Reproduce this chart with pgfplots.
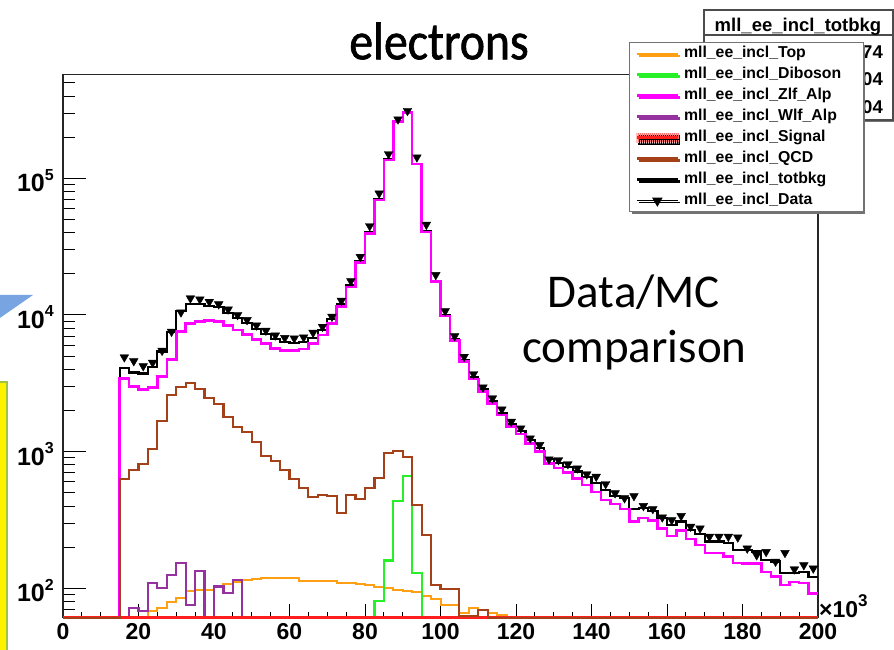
\documentclass[border=0pt]{standalone}
\usepackage{pgfplots}
\pgfplotsset{compat=1.18}
\usepackage{pgfplotstable}
\usepackage{fontspec}
\setmainfont{Liberation Sans}
\newfontfamily\calfont{Carlito}
\newfontfamily\titlefont[FakeStretch=0.9,FakeBold=1.2]{Carlito}
\usetikzlibrary{shadows}
\definecolor{cTop}{RGB}{255,160,20}
\definecolor{cDib}{RGB}{40,240,40}
\definecolor{cZlf}{RGB}{255,0,255}
\definecolor{cWlf}{RGB}{150,50,160}
\definecolor{cQCD}{RGB}{165,65,25}
\definecolor{cSig}{RGB}{255,30,30}
\definecolor{arrowblue}{RGB}{120,165,225}
\definecolor{boxolive}{RGB}{160,195,70}
\newcommand{\ylab}[1]{\fontsize{25}{25}\selectfont\bfseries 10\raisebox{11.5pt}{\fontsize{16}{16}\selectfont\bfseries #1}}

\pgfplotstableread{
x top dib zlf wlf qcd tot
0 61 61 61 61 61 61
15 61 61 3440 61 628 4068
17.5 61 61 2990 72 735 3797
20 61 61 2860 68 809 3737
22.5 68 61 2960 110 1042 4180
25 72 61 3540 101 1687 5400
27.5 79 61 4740 125 2600 7544
30 85 61 7550 154 2960 10749
32.5 95 61 8700 76 3160 12031
35 98 61 8940 134 2880 12052
37.5 98 61 9080 61 2460 11638
40 104 61 8940 103 2220 11367
42.5 108 61 8350 92 1805 10355
45 111 61 7760 115 1524 9510
47.5 115 61 7220 61 1387 8722
50 117 61 6640 61 1184 7941
52.5 119 61 6210 61 931 7260
55 120 61 5710 61 860 6690
57.5 120 61 5480 61 735 6335
60 120 61 5480 61 628 6228
62.5 114 61 5650 61 540 6304
65 113 61 6210 61 469 6792
67.5 114 61 7140 61 482 7736
70 114 61 8700 61 474 9288
72.5 110 61 11510 61 358 11978
75 109 61 15960 61 482 16551
77.5 107 61 24150 61 451 24708
80 105 61 39600 61 540 40245
82.5 103 81 69300 61 638 70122
85 100 160 136000 61 984 137244
87.5 98 436 259600 61 1017 261151
90 96 664 302000 61 910 303670
92.5 94 129 127200 61 407 127830
95 88 61 40620 61 246 40954
97.5 83 61 17550 61 106 17739
100 76 61 9800 61 99 9975
102.5 76 61 6490 61 99 6665
105 66 61 4550 61 63 4679
107.5 72 61 3400 61 63 3535
110 69 61 2750 61 69 2888
112.5 66 61 2260 61 61 2326
115 64 61 1850 61 61 1914
117.5 61 61 1524 61 61 1585
120 61 61 1349 61 61 1416
122.5 61 61 1151 61 61 1220
125 61 61 1000 61 61 1070
127.5 61 61 822 61 61 888
130 61 61 757 61 61 825
132.5 61 61 702 61 61 772
135 61 61 638 61 61 715
137.5 61 61 570 61 61 650
140 61 61 505 61 61 586
142.5 61 61 444 61 61 524
145 61 61 414 61 61 474
147.5 61 61 380 61 61 456
150 61 61 308 61 61 380
152.5 61 61 326 61 61 386
155 61 61 313 61 61 370
157.5 61 61 275 61 61 326
160 61 61 242 61 61 291
162.5 61 61 264 61 61 308
165 61 61 229 61 61 267
167.5 61 61 208 61 61 250
170 61 61 181 61 61 220
172.5 61 61 181 61 61 220
175 61 61 171 61 61 214
177.5 61 61 153 61 61 191
180 61 61 152 61 61 191
182.5 61 61 152 61 61 186
185 61 61 132 61 61 161
187.5 61 61 122 61 61 157
190 61 61 106 61 61 130
192.5 61 61 111 61 61 130
195 61 61 109 61 61 132
197.5 61 61 92 61 61 121
200 61 61 92 61 61 121
}\hist

\pgfplotstableread{
x d
16.25 4910
18.75 4600
21.25 4230
23.75 4480
26.25 5480
28.75 7550
31.25 10470
33.75 13260
36.25 13030
38.75 12500
41.25 12000
43.75 11000
46.25 10000
48.75 9200
51.25 8400
53.75 7700
56.25 7100
58.75 6800
61.25 6750
63.75 6870
66.25 7430
68.75 8210
71.25 9720
73.75 12730
76.25 17740
78.75 26700
81.25 44770
83.75 77600
86.25 150600
88.75 270400
91.25 312000
93.75 142600
96.25 45800
98.75 19640
101.25 10700
103.75 7010
106.25 4950
108.75 3700
111.25 2960
113.75 2460
116.25 2040
118.75 1659
121.25 1483
123.75 1253
126.25 1120
128.75 880
131.25 869
133.75 812
136.25 756
138.75 684
141.25 657
143.75 580
146.25 497
148.75 457
151.25 474
153.75 401
156.25 381
158.75 331
161.25 316
163.75 339
166.25 283
168.75 275
171.25 239
173.75 239
176.25 239
178.75 236
181.25 196
183.75 175
186.25 185
188.75 157
191.25 182
193.75 138
196.25 148
198.75 140
}\datatab

\pgfplotsset{
  legline/.style={legend image code/.code={\draw[##1] (0pt,0pt)--(41pt,0pt);}},
  legdata/.style={legend image code/.code={\draw[black,line width=1.5pt] (0pt,0pt)--(41pt,0pt); \path[##1] plot coordinates {(20.5pt,0pt)};}},
  legsig/.style={legend image code/.code={\fill[red!25] (0pt,-4.5pt) rectangle (41pt,4.5pt);
      \foreach \i in {1,3,...,41} {\draw[red!55,line width=0.6pt] (\i pt,-4.5pt)--(\i pt,4.5pt);}
      \draw[cSig,line width=2.5pt] (0pt,0pt)--(41pt,0pt);}},
}

\begin{document}
\begin{tikzpicture}
\useasboundingbox (0pt,0pt) rectangle (894pt,650pt);
% side decorations
\fill[yellow] (-3pt,-3pt) rectangle (7pt,268pt);
\draw[boxolive,line width=1.5pt] (-3pt,268pt) -- (7pt,268pt) -- (7pt,-3pt);
\fill[arrowblue] (-3pt,355pt) -- (33pt,355pt) -- (-3pt,330pt) -- cycle;
% stat box (behind legend)
\draw[black!70,line width=1.5pt,fill=white,drop shadow={shadow xshift=2pt,shadow yshift=-2pt,fill=black!55,opacity=1}] (704pt,530pt) rectangle (893pt,640pt);
\draw[black!70,line width=1.2pt] (704pt,615pt) -- (893pt,615pt);
\node[anchor=base,inner sep=0pt,font=\fontsize{18.5}{18.5}\selectfont\bfseries] at (798pt,618.3pt) {mll\_ee\_incl\_totbkg};
\node[anchor=base east,inner sep=0pt,font=\fontsize{18.5}{18.5}\selectfont\bfseries] at (883pt,591.7pt) {74};
\node[anchor=base east,inner sep=0pt,font=\fontsize{18.5}{18.5}\selectfont\bfseries] at (883pt,564pt) {04};
\node[anchor=base east,inner sep=0pt,font=\fontsize{18.5}{18.5}\selectfont\bfseries] at (883pt,536.7pt) {04};

% y ticks axis
\begin{axis}[
  at={(63pt,32.3pt)}, anchor=south west,
  scale only axis, width=755pt, height=543pt,
  xmin=0, xmax=200, ymin=61, ymax=573000, ymode=log,
  axis line style={draw=none},
  xtick=\empty,
  ytick={100,1000,10000,100000},
  yticklabels={\ylab{2},\ylab{3},\ylab{4},\ylab{5}},
  minor ytick={70,80,90,200,300,400,500,600,700,800,900,2000,3000,4000,5000,6000,7000,8000,9000,20000,30000,40000,50000,60000,70000,80000,90000,200000,300000,400000,500000},
  ytick pos=left, tick align=inside,
  major tick length=23pt, minor tick length=12pt,
  every tick/.style={black,line width=1pt},
  yticklabel style={anchor=base east, xshift=-9pt, yshift=-13.4pt, inner sep=0pt},
]
\addplot[draw=none] coordinates {(100,1000)};
\end{axis}

% main axis
\begin{axis}[
  at={(63pt,32.3pt)}, anchor=south west,
  scale only axis, width=755pt, height=543pt,
  xmin=0, xmax=200, ymin=61, ymax=573000, ymode=log,
  clip=false,
  axis line style={line width=1.5pt, black!85},
  xtick={0,20,...,200},
  xticklabels={0,20,40,60,80,100,120,140,160,180,200},
  minor x tick num=3,
  ytick=\empty,
  xtick pos=left, tick align=inside,
  major tick length=14pt, minor tick length=6pt,
  every tick/.style={black,line width=1pt},
  xticklabel style={font=\fontsize{23}{23}\selectfont\bfseries, anchor=base, yshift=-22.3pt, inner sep=0pt},
  legend cell align=left,
  legend style={at={(0.7497,1.0602)}, anchor=north west,
    draw=black!55, line width=1.2pt, fill=white,
    inner xsep=6pt, inner ysep=0.5pt, column sep=2pt,
    font=\fontsize{15.8}{15.8}\selectfont\bfseries,
    nodes={inner sep=3pt, text height=11.5pt, text depth=3.5pt},
    drop shadow={shadow xshift=2pt,shadow yshift=-2pt,fill=black!55,opacity=1}},
]
\addlegendimage{legline, cTop, line width=2pt}
\addlegendentry{\makebox[170pt][l]{mll\_ee\_incl\_Top}}
\addlegendimage{legline, cDib, line width=2.5pt}
\addlegendentry{\makebox[170pt][l]{mll\_ee\_incl\_Diboson}}
\addlegendimage{legline, cZlf, line width=2.5pt}
\addlegendentry{\makebox[170pt][l]{mll\_ee\_incl\_Zlf\_Alp}}
\addlegendimage{legline, cWlf, line width=2.5pt}
\addlegendentry{\makebox[170pt][l]{mll\_ee\_incl\_Wlf\_Alp}}
\addlegendimage{legsig}
\addlegendentry{\makebox[170pt][l]{mll\_ee\_incl\_Signal}}
\addlegendimage{legline, cQCD, line width=2.5pt}
\addlegendentry{\makebox[170pt][l]{mll\_ee\_incl\_QCD}}
\addlegendimage{legline, black, line width=2.5pt}
\addlegendentry{\makebox[170pt][l]{mll\_ee\_incl\_totbkg}}
\addlegendimage{legdata, mark=triangle*, mark size=5pt, mark options={rotate=180,fill=black,draw=black}}
\addlegendentry{\makebox[170pt][l]{mll\_ee\_incl\_Data}}

\addplot[const plot mark left, black, line width=2.2pt, forget plot] table[x=x,y=tot]{\hist};
\addplot[const plot mark left, cTop, line width=2pt, forget plot] table[x=x,y=top]{\hist};
\addplot[const plot mark left, cDib, line width=2.2pt, forget plot] table[x=x,y=dib]{\hist};
\addplot[const plot mark left, cZlf, line width=2.5pt, forget plot] table[x=x,y=zlf]{\hist};
\addplot[const plot mark left, cWlf, line width=2.2pt, forget plot] table[x=x,y=wlf]{\hist};
\addplot[const plot mark left, cSig, line width=2.5pt, forget plot] coordinates {(0,61) (200,61)};
\addplot[const plot mark left, cQCD, line width=2.2pt, forget plot] table[x=x,y=qcd]{\hist};
\addplot[only marks, mark=triangle*, mark size=5pt, mark options={rotate=180,fill=black,draw=black}, forget plot] table[x=x,y=d]{\datatab};
\end{axis}

% x10^3
\node[anchor=base west,inner sep=0pt,font=\fontsize{23}{23}\selectfont\bfseries] at (819pt,32pt) {\symbol{"00D7}10\raisebox{11pt}{\fontsize{17}{17}\selectfont\bfseries 3}};
% title
\node[anchor=base,inner sep=0pt,font=\titlefont\fontsize{53}{53}\selectfont] at (439pt,590.7pt) {electrons};
% annotation
\node[anchor=base,inner sep=0pt,font=\calfont\fontsize{47}{47}\selectfont] at (634pt,342pt) {Data/MC};
\node[anchor=base,inner sep=0pt,font=\calfont\fontsize{47}{47}\selectfont] at (634.5pt,287pt) {comparison};
\end{tikzpicture}
\end{document}
